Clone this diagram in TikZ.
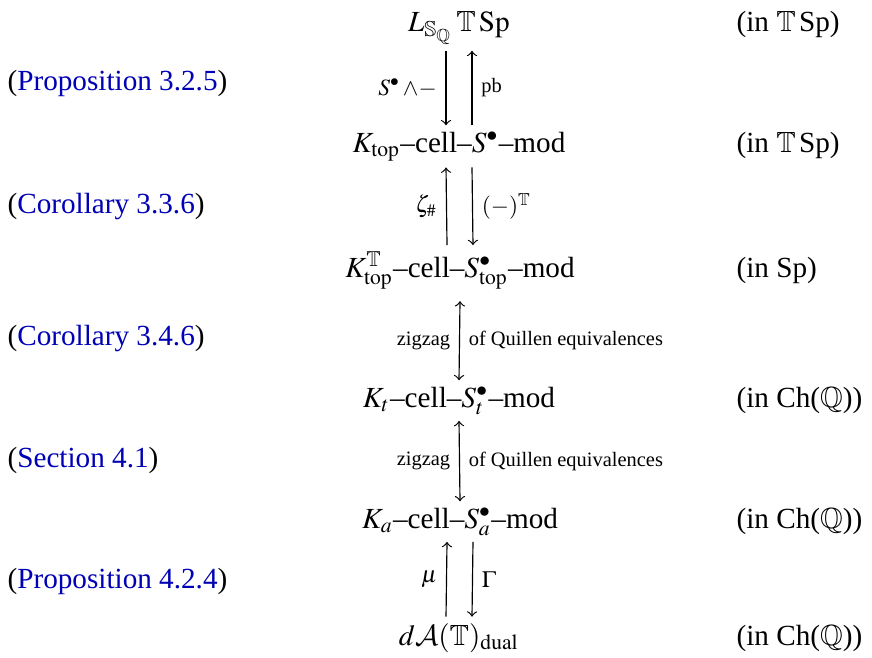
\documentclass[tikz,border=0pt]{standalone}
\usepackage{mathptmx}
\usepackage{amssymb}
\usepackage{fontspec}
\setmainfont{Liberation Serif}
\DeclareMathAlphabet{\mathcal}{OMS}{cmsy}{m}{n}
\definecolor{refBlue}{RGB}{0,0,180}
\tikzset{
    cat/.style={anchor=base, inner sep=2pt},
    amb/.style={anchor=base west, inner sep=0pt},
    ref/.style={anchor=base west, inner sep=0pt},
    adj/.style={->},
    lbl/.style={font=\scriptsize, inner sep=3pt},
    mlbl/.style={font=\footnotesize, inner sep=3pt}
}
\newcommand{\reflink}[1]{({\color{refBlue}#1})}

\begin{document}
\begin{tikzpicture}[x=0.3425pt, y=-0.3425pt]
    \useasboundingbox (0,0) rectangle (872,657);
    % the chain of model categories
    \node[cat] (r1) at (459,32) {$L_{\mathbb{S}_{\mathbb{Q}}}\,\mathbb{T}\,\mathrm{Sp}$};
    \node[cat] (r2) at (459,152) {$K_{\mathrm{top}}$--cell--$S^{\bullet}$--mod};
    \node[cat] (r3) at (460,277) {$K_{\mathrm{top}}^{\mathbb{T}}$--cell--$S^{\bullet}_{\mathrm{top}}$--mod};
    \node[cat] (r4) at (459,407) {$K_t$--cell--$S^{\bullet}_t$--mod};
    \node[cat] (r5) at (460,528) {$K_a$--cell--$S^{\bullet}_a$--mod};
    \node[cat] (r6) at (459,645) {$d\mathcal{A}(\mathbb{T})_{\mathrm{dual}}$};
    % where they live
    \node[amb] (a1) at (736,32) {(in $\mathbb{T}\,$Sp)};
    \node[amb] (a2) at (736,152) {(in $\mathbb{T}\,$Sp)};
    \node[amb] (a3) at (736,277) {(in Sp)};
    \node[amb] (a4) at (736,407) {(in Ch($\mathbb{Q}$))};
    \node[amb] (a5) at (736,528) {(in Ch($\mathbb{Q}$))};
    \node[amb] (a6) at (736,645) {(in Ch($\mathbb{Q}$))};
    % references
    \node[ref] (p1) at (7,91) {\reflink{Proposition 3.2.5}};
    \node[ref] (p2) at (7,213) {\reflink{Corollary 3.3.6}};
    \node[ref] (p3) at (7,345) {\reflink{Corollary 3.4.6}};
    \node[ref] (p4) at (7,467) {\reflink{Section 4.1}};
    \node[ref] (p5) at (7,588) {\reflink{Proposition 4.2.4}};
    % adjunctions
    \draw[adj] ([xshift=-4.45pt]r1.south) -- ([xshift=-4.45pt]r2.north) node[midway, left, mlbl] {$S^{\bullet}\,{\wedge}{-}$};
    \draw[adj] ([xshift=4.45pt]r2.north) -- ([xshift=4.45pt]r1.south) node[midway, right, lbl] {pb};
    \draw[adj] ([xshift=-4.45pt]r3.north) -- ([xshift=-4.45pt]r2.south) node[midway, left, mlbl] {$\zeta_{\#}$};
    \draw[adj] ([xshift=4.45pt]r2.south) -- ([xshift=4.45pt]r3.north) node[midway, right, mlbl] {$(-)^{\mathbb{T}}$};
    \draw[<->] ([yshift=-2pt]r3.south) -- (r4.north) node[midway, left, lbl] {zigzag} node[midway, right, lbl] {of Quillen equivalences};
    \draw[<->] (r4.south) -- (r5.north) node[midway, left, lbl] {zigzag} node[midway, right, lbl] {of Quillen equivalences};
    \draw[adj] ([xshift=-4.45pt]r6.north) -- ([xshift=-4.45pt]r5.south) node[midway, left, mlbl] {$\mu$};
    \draw[adj] ([xshift=4.45pt]r5.south) -- ([xshift=4.45pt]r6.north) node[midway, right, mlbl] {$\Gamma$};
\end{tikzpicture}
\end{document}
